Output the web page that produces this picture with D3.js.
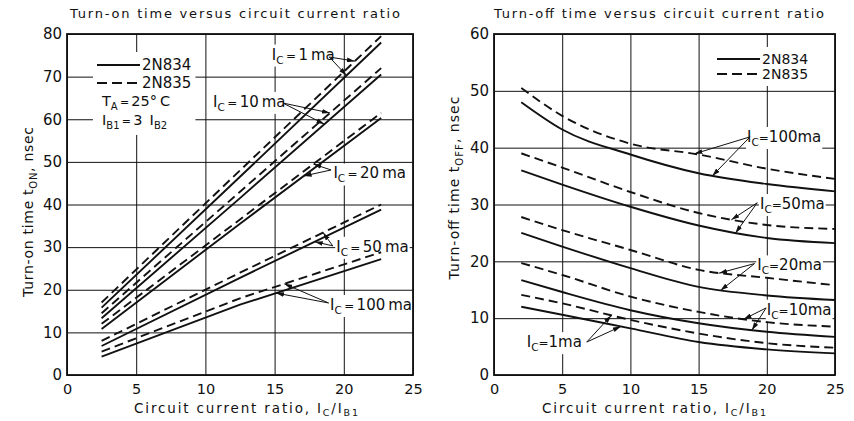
<!DOCTYPE html>
<html>
<head>
<meta charset="utf-8">
<script src="https://cdn.jsdelivr.net/npm/d3@7"></script>
<style>
  body { margin: 0; background: #fff; }
  svg text { font-family: "DejaVu Sans", sans-serif; fill: #111; }
</style>
</head>
<body>
<svg id="chart" width="854" height="421"></svg>
<script>
// collector current of each curve pair (ma)
const currents = ["1", "10", "20", "50", "100"];

// turn-on time (nsec) read at these current ratios
const onRatio = [2.5, 12.5, 22.7];
const on2N834 = [
    [15.8, 46.5, 78.0],
    [13.3, 41.5, 70.5],
    [10.8, 35.5, 60.3],
    [6.8, 22.8, 38.8],
    [4.3, 16.5, 27.2],
];
const on2N835 = [
    [17.0, 48.0, 79.5],
    [14.5, 43.0, 72.0],
    [12.0, 36.5, 61.5],
    [8.0, 24.0, 40.0],
    [5.5, 18.0, 28.8],
];

// turn-off time (nsec) read at these current ratios
const offRatio = [2, 5, 10, 15, 20, 25];
const off2N834 = [
    [12.0, 10.6, 8.2, 5.8, 4.5, 3.8],
    [16.7, 14.6, 11.4, 9.1, 7.6, 6.7],
    [25.0, 22.6, 18.8, 15.5, 14.0, 13.2],
    [36.0, 33.5, 29.6, 26.3, 24.1, 23.2],
    [48.0, 43.2, 38.8, 35.5, 33.6, 32.3],
];
const off2N835 = [
    [14.1, 12.6, 9.7, 7.3, 5.6, 4.8],
    [19.7, 17.6, 13.8, 11.1, 9.3, 8.5],
    [27.8, 25.5, 22.0, 18.5, 17.1, 15.8],
    [39.0, 36.5, 32.2, 28.5, 26.4, 25.7],
    [50.5, 45.6, 40.7, 38.8, 36.3, 34.5],
];

const xTicks = [0, 5, 10, 15, 20, 25];
const onTicks = [0, 10, 20, 30, 40, 50, 60, 70, 80];
const offTicks = [0, 10, 20, 30, 40, 50, 60];

// label anchor, arrow start (data units) and arrow targets on [2N835, 2N834] curves
const onNotes = [
    { lx: 14.8, ly: 74.0, ax: 18.95, ay: 74.6, t: [20.8, 20.2] },
    { lx: 10.55, ly: 62.9, ax: 15.6, ay: 63.8, t: [19.0, 18.6] },
    { lx: 19.25, ly: 46.1, ax: 19.08, ay: 48.1, t: [17.8, 17.1] },
    { lx: 19.45, ly: 28.9, ax: 19.2, ay: 30.3, t: [18.5, 17.9] },
    { lx: 19.0, ly: 15.25, ax: 18.9, ay: 16.9, t: [15.7, 15.1] },
];
const offNotes = [
    { lx: 2.4, ly: 4.9, ax: 6.8, ay: 5.8, t: [8.6, 9.3] },
    { lx: 20.0, ly: 10.6, ax: 19.95, ay: 11.8, t: [18.3, 18.9] },
    { lx: 19.3, ly: 18.4, ax: 19.1, ay: 19.6, t: [16.5, 16.6] },
    { lx: 19.5, ly: 29.2, ax: 19.3, ay: 30.3, t: [17.4, 17.7] },
    { lx: 18.55, ly: 41.0, ax: 18.77, ay: 41.9, t: [14.7, 16.0] },
];

const INK = "#111";
const DASH = "9,5";
const FONT = "DejaVu Sans, sans-serif";
const svg = d3.select("#chart");

svg.append("defs")
    .append("marker")
    .attr("id", "head")
    .attr("viewBox", "0 0 10 6")
    .attr("refX", 10)
    .attr("refY", 3)
    .attr("markerWidth", 8)
    .attr("markerHeight", 5)
    .attr("markerUnits", "userSpaceOnUse")
    .attr("orient", "auto")
    .append("path")
    .attr("d", "M0,0L10,3L0,6Z")
    .attr("fill", INK);

function pointAtX(node, px) {
    let lo = 0;
    let hi = node.getTotalLength();
    for (let i = 0; i < 30; i++) {
        const mid = (lo + hi) / 2;
        if (node.getPointAtLength(mid).x < px) lo = mid;
        else hi = mid;
    }
    return node.getPointAtLength((lo + hi) / 2);
}

function icLabel(parent, px, py, val, spaced) {
    const t = parent.append("text").attr("x", px).attr("y", py).attr("font-size", 15);
    t.append("tspan").text("I");
    t.append("tspan").attr("font-size", 10.5).attr("dy", 4).text("C");
    t.append("tspan").attr("dy", -4).attr("font-size", 12).text(spaced ? "\u2009=\u2009" : "=");
    t.append("tspan").text(val + (spaced ? "\u2009ma" : "ma"));
    return t;
}

function whiteBox(bg, node, pad) {
    const b = node.getBBox();
    bg.append("rect")
        .attr("x", b.x - pad)
        .attr("y", b.y - pad)
        .attr("width", b.width + 2 * pad)
        .attr("height", b.height + 2 * pad)
        .attr("fill", "#fff");
}

function drawPanel(p) {
    const { x, y, yTicks, ratio, solid, dashed, curve, notes, spaced } = p;
    const [x0, x1] = x.range();
    const [yb, yt] = y.range();

    const g = svg.append("g");
    const gridG = g.append("g");
    const bgG = g.append("g");
    const lineG = g.append("g");
    const arrowG = g.append("g");
    const textG = g.append("g");

    gridG.append("g")
        .attr("transform", `translate(0,${yb})`)
        .call(d3.axisBottom(x).tickValues(xTicks).tickSizeInner(-(yb - yt)).tickSizeOuter(0).tickPadding(9))
        .attr("font-size", 14.5)
        .attr("font-family", FONT)
        .call((a) => a.select(".domain").remove())
        .call((a) => a.selectAll("line").attr("stroke", INK).attr("stroke-width", 1));

    gridG.append("g")
        .attr("transform", `translate(${x0},0)`)
        .call(d3.axisLeft(y).tickValues(yTicks).tickSizeInner(-(x1 - x0)).tickSizeOuter(0).tickPadding(5))
        .attr("font-size", 15)
        .attr("font-family", FONT)
        .call((a) => a.select(".domain").remove())
        .call((a) => a.selectAll("line").attr("stroke", INK).attr("stroke-width", 1));

    gridG.selectAll(".tick text").attr("fill", INK);

    g.append("rect")
        .attr("x", x0)
        .attr("y", yt)
        .attr("width", x1 - x0)
        .attr("height", yb - yt)
        .attr("fill", "none")
        .attr("stroke", INK)
        .attr("stroke-width", 1.8);

    const line = d3.line().x((d) => x(d[0])).y((d) => y(d[1])).curve(curve);
    const paths = currents.map((c, i) => {
        const s = lineG.append("path")
            .datum(ratio.map((r, j) => [r, solid[i][j]]))
            .attr("d", line)
            .attr("fill", "none")
            .attr("stroke", INK)
            .attr("stroke-width", 1.9);
        const d = lineG.append("path")
            .datum(ratio.map((r, j) => [r, dashed[i][j]]))
            .attr("d", line)
            .attr("fill", "none")
            .attr("stroke", INK)
            .attr("stroke-width", 1.9)
            .attr("stroke-dasharray", DASH);
        return [d.node(), s.node()];
    });

    notes.forEach((n, i) => {
        const t = icLabel(textG, x(n.lx), y(n.ly), currents[i], spaced);
        whiteBox(bgG, t.node(), 1);
        n.t.forEach((tx, k) => {
            const pt = pointAtX(paths[i][k], x(tx));
            arrowG.append("line")
                .attr("x1", x(n.ax))
                .attr("y1", y(n.ay))
                .attr("x2", pt.x)
                .attr("y2", pt.y)
                .attr("stroke", INK)
                .attr("stroke-width", 1)
                .attr("marker-end", "url(#head)");
        });
    });

    return { g, bgG, textG };
}

const xOn = d3.scaleLinear().domain([0, 25]).range([67, 413]);
const yOn = d3.scaleLinear().domain([0, 80]).range([375, 34]);
const xOff = d3.scaleLinear().domain([0, 25]).range([494, 835]);
const yOff = d3.scaleLinear().domain([0, 60]).range([375, 34]);

const left = drawPanel({
    x: xOn, y: yOn, yTicks: onTicks, ratio: onRatio,
    solid: on2N834, dashed: on2N835, curve: d3.curveLinear, notes: onNotes, spaced: true,
});
const right = drawPanel({
    x: xOff, y: yOff, yTicks: offTicks, ratio: offRatio,
    solid: off2N834, dashed: off2N835, curve: d3.curveMonotoneX, notes: offNotes, spaced: false,
});

// legends
function legend(panel, lx, ly, rows, size) {
    const lg = panel.textG.append("g");
    lg.append("line").attr("x1", lx).attr("x2", lx + 43).attr("y1", ly).attr("y2", ly)
        .attr("stroke", INK).attr("stroke-width", 1.9);
    lg.append("text").attr("x", lx + 45).attr("y", ly + 5).attr("font-size", size).text("2N834");
    lg.append("line").attr("x1", lx).attr("x2", lx + 43).attr("y1", ly + rows).attr("y2", ly + rows)
        .attr("stroke", INK).attr("stroke-width", 1.9).attr("stroke-dasharray", "10,5");
    lg.append("text").attr("x", lx + 45).attr("y", ly + rows + 5).attr("font-size", size).text("2N835");
    return lg;
}

const lgL = legend(left, 97, 65, 18, 15);
const ta = lgL.append("text").attr("x", 102).attr("y", 106).attr("font-size", 14.5);
ta.append("tspan").text("T");
ta.append("tspan").attr("font-size", 10).attr("dy", 4).text("A");
ta.append("tspan").attr("dy", -4).attr("font-size", 11).text("\u2009=\u2009");
ta.append("tspan").text("25\u00b0\u2009C");
const ib = lgL.append("text").attr("x", 102).attr("y", 125).attr("font-size", 14.5);
ib.append("tspan").text("I");
ib.append("tspan").attr("font-size", 10).attr("dy", 4).text("B1");
ib.append("tspan").attr("dy", -4).attr("font-size", 11).text("\u2009=\u2009");
ib.append("tspan").text("3\u2002I");
ib.append("tspan").attr("font-size", 10).attr("dy", 4).text("B2");
whiteBox(left.bgG, lgL.node(), 4);

const lgR = legend(right, 717, 59, 15, 14);
whiteBox(right.bgG, lgR.node(), 4);

// titles
function title(px, text) {
    svg.append("text")
        .attr("x", px)
        .attr("y", 18)
        .attr("font-size", 13)
        .attr("textLength", 330)
        .attr("lengthAdjust", "spacing")
        .text(text);
}
title(70, "Turn-on time versus circuit current ratio");
title(494, "Turn-off time versus circuit current ratio");

function xTitle(px) {
    const t = svg.append("text")
        .attr("x", px)
        .attr("y", 413)
        .attr("font-size", 13.5)
        .attr("textLength", 224)
        .attr("lengthAdjust", "spacing");
    t.append("tspan").text("Circuit current ratio, I");
    t.append("tspan").attr("font-size", 9.5).attr("dy", 3).text("C");
    t.append("tspan").attr("dy", -3).text("/I");
    t.append("tspan").attr("font-size", 9.5).attr("dy", 3).text("B1");
}
xTitle(134);
xTitle(542);

function yTitle(bx, cy, len, main, sub) {
    const t = svg.append("text")
        .attr("transform", `translate(${bx},${cy}) rotate(-90)`)
        .attr("text-anchor", "middle")
        .attr("font-size", 14)
        .attr("textLength", len)
        .attr("lengthAdjust", "spacing");
    t.append("tspan").text(main);
    t.append("tspan").attr("font-size", 10).attr("dy", 4).text(sub);
    t.append("tspan").attr("dy", -4).text(", nsec");
}
yTitle(33, 212, 170, "Turn-on time t", "ON");
yTitle(459, 188, 183, "Turn-off time t", "OFF");
</script>
</body>
</html>
